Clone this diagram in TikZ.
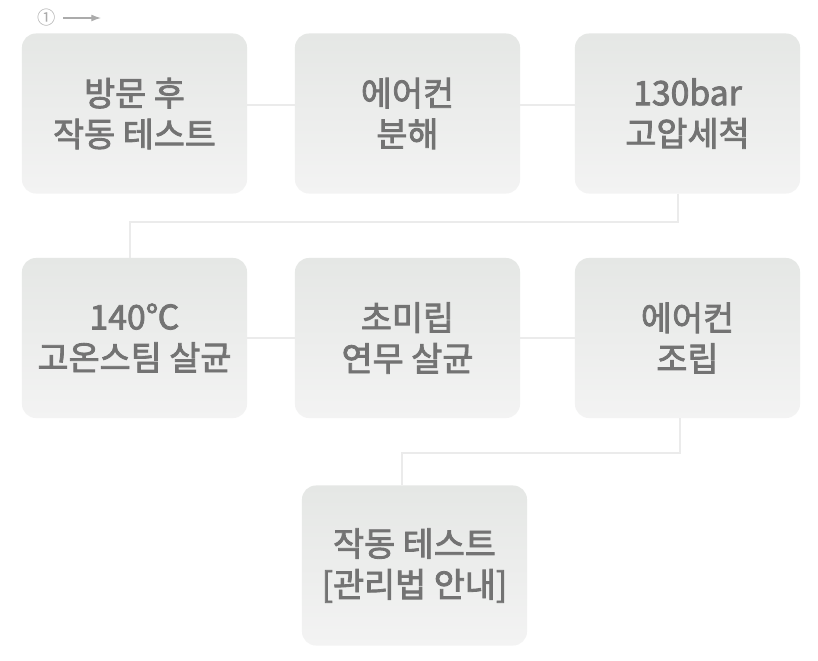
\documentclass[tikz,border=0pt]{standalone}
\usepackage{fontspec}
\newfontfamily\krfont{Noto Sans CJK KR}
\newfontfamily\krmed{Noto Sans CJK KR}[FakeBold=2.4]
\usetikzlibrary{arrows.meta, positioning}

\definecolor{boxtop}{HTML}{E5E7E5}
\definecolor{boxbot}{HTML}{F3F3F3}
\definecolor{boxtext}{HTML}{737373}
\definecolor{linkgray}{HTML}{EBEBEB}
\definecolor{markgray}{HTML}{ABABAB}

\tikzset{
  stepbox/.style={rounded corners=0.35cm, top color=boxtop, bottom color=boxbot, draw=none,
    minimum width=5.625cm, minimum height=4cm, align=center, text=boxtext,
    font=\krmed\fontsize{24}{29}\selectfont},
  link/.style={linkgray, line width=1.3pt}
}

\begin{document}
\begin{tikzpicture}[x=0.025cm, y=-0.025cm]
\useasboundingbox[fill=white] (0,0) rectangle (818,660);

\node[text=markgray, font=\krfont\fontsize{13}{15}\selectfont] (mark) at (47,18) {①};
\coordinate (markEnd) at (101,18);
\draw[markgray, line width=0.8pt, -{Latex[length=2.4mm, width=1.7mm]}] (mark.east) ++(2,0) -- (markEnd);

\node[stepbox] (b1) at (134.5,113.5) {방문 후\\작동 테스트};
\node[stepbox] (b2) at (407.5,113.5) {에어컨\\분해};
\node[stepbox] (b3) at (687.5,113.5) {130bar\\고압세척};
\node[stepbox] (b4) at (134.5,338) {140℃\\고온스팀 살균};
\node[stepbox] (b5) at (407.5,338) {초미립\\연무 살균};
\node[stepbox] (b6) at (687.5,338) {에어컨\\조립};
\node[stepbox] (b7) at (414.5,565.5) {작동 테스트\\{[}관리법 안내{]}};

\draw[link] ([yshift=0.21cm]b1.east) -- ([yshift=0.21cm]b2.west);
\draw[link] ([yshift=0.21cm]b2.east) -- ([yshift=0.21cm]b3.west);
\draw[link] ([xshift=-0.24cm]b3.south) -- ++(0,28) -| ([xshift=-0.11cm]b4.north);
\draw[link] (b4.east) -- (b5.west);
\draw[link] (b5.east) -- (b6.west);
\draw[link] ([xshift=-0.19cm]b6.south) -- ++(0,35) -| ([xshift=-0.31cm]b7.north);

\end{tikzpicture}
\end{document}
